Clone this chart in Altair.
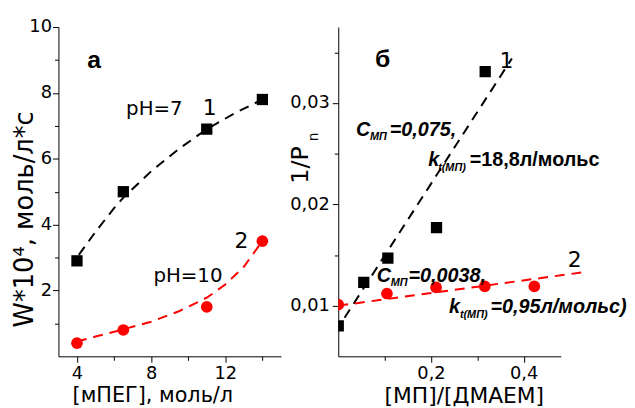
import altair as alt
import pandas as pd

# ---- Panel a data ----
conc_mpeg = [4, 6.5, 11, 14]
w_ph7 = [2.9, 5.0, 6.9, 7.8]
w_ph10 = [0.4, 0.8, 1.5, 3.5]
fit7_x = [4.1, 5, 6, 6.5, 8, 9.5, 11, 12.5, 14]
fit7_y = [3.08, 3.78, 4.5, 4.82, 5.62, 6.3, 6.9, 7.38, 7.8]
fit10_x = [4, 5, 6.5, 8, 9.5, 11, 12, 13, 14]
fit10_y = [0.45, 0.6, 0.82, 1.05, 1.37, 1.78, 2.18, 2.72, 3.5]

# ---- Panel b data ----
ratio_black = [0, 0.055, 0.107, 0.212, 0.317]
invp_black = [0.0080, 0.0123, 0.0147, 0.0177, 0.0331]
ratio_red = [0, 0.105, 0.211, 0.316, 0.423]
invp_red = [0.0101, 0.0112, 0.0118, 0.0119, 0.0119]
fitb1_x = [0.0135, 0.3746]
fitb1_y = [0.0088, 0.0344]
fitb2_x = [0.0, 0.537]
fitb2_y = [0.0100, 0.01335]

RED = "#ff0000"
FONT = "DejaVu Sans"
AFONT = "Liberation Sans"
W, H = 225, 333
DASH = [10, 7]

def axis_common(**kw):
    return alt.Axis(grid=False, domainColor="black", tickColor="black",
                    labelColor="black", titleColor="black", labelFont=FONT,
                    labelFontSize=18, titleFont=FONT, titleFontWeight="normal",
                    labelOverlap=False, labelFlush=False, tickWidth=1, domainWidth=1,
                    titleAlign="center", titleBaseline="middle", **kw)

# Panel a axes
ax_a_x = axis_common(values=[4, 6, 8, 10, 12, 14],
                     labelExpr="datum.value % 4 === 0 ? datum.label : ''",
                     tickSize={"condition": {"test": "datum.value % 4 === 0", "value": 6}, "value": 4},
                     labelPadding=2, title="[мПЕГ], моль/л", titleFontSize=21,
                     titleX=95, titleY=40)
ax_a_y = axis_common(values=[1, 2, 3, 4, 5, 6, 7, 8, 9, 10],
                     labelExpr="datum.value % 2 === 0 ? datum.label : ''",
                     tickSize={"condition": {"test": "datum.value % 2 === 0", "value": 6}, "value": 4},
                     labelPadding=1, title="W*10⁴, моль/л*с", titleFontSize=26,
                     titleX=-34, titleY=194, titleAngle=270)
sc_a_x = alt.Scale(domain=[3, 15], nice=False, zero=False)
sc_a_y = alt.Scale(domain=[0, 10], nice=False, zero=False)

def xa(f):
    return alt.X(f, type="quantitative", scale=sc_a_x, axis=ax_a_x)

def ya(f):
    return alt.Y(f, type="quantitative", scale=sc_a_y, axis=ax_a_y)

df_a = pd.DataFrame({"c": conc_mpeg, "w7": w_ph7, "w10": w_ph10})
df_f7 = pd.DataFrame({"x": fit7_x, "y": fit7_y})
df_f10 = pd.DataFrame({"x": fit10_x, "y": fit10_y})

line7 = alt.Chart(df_f7).mark_line(color="black", strokeWidth=2, strokeDash=DASH).encode(
    x=xa("x"), y=ya("y"))
line10 = alt.Chart(df_f10).mark_line(color=RED, strokeWidth=2, strokeDash=DASH).encode(
    x=xa("x"), y=ya("y"))
pts7 = alt.Chart(df_a).mark_point(shape="square", filled=True, size=130, color="black", opacity=1).encode(
    x=xa("c"), y=ya("w7"))
pts10 = alt.Chart(df_a).mark_circle(size=140, color=RED, opacity=1).encode(
    x=xa("c"), y=ya("w10"))

def label(text, px, py, size=20, font=FONT, weight="normal", style="normal", align="center", angle=0):
    return alt.Chart(pd.DataFrame({"t": [text]})).mark_text(
        font=font, fontSize=size, fontWeight=weight, fontStyle=style, align=align,
        baseline="middle", color="black", angle=angle
    ).encode(text="t:N", x=alt.value(px), y=alt.value(py))

txt_a = [
    label("а", 36, 33, size=25, font=AFONT, weight="bold"),
    label("pH=7", 97, 83, size=20),
    label("1", 153, 82, size=22),
    label("pH=10", 131, 252, size=20),
    label("2", 185, 216, size=22),
]

panel_a = alt.layer(line7, line10, pts7, pts10, *txt_a).properties(width=W, height=H)

# Panel b axes
ax_b_x = axis_common(values=[0.1, 0.2, 0.3, 0.4],
                     labelExpr="round(datum.value*10) % 2 === 0 ? replace(format(datum.value, '.1f'), '.', ',') : ''",
                     tickSize={"condition": {"test": "round(datum.value*10) % 2 === 0", "value": 6}, "value": 4},
                     labelPadding=2, title="[МП]/[ДМАЕМ]", titleFontSize=22,
                     titleX=127, titleY=40)
ax_b_y = axis_common(values=[0.01, 0.015, 0.02, 0.025, 0.03, 0.035],
                     labelExpr="round(datum.value*1000) % 10 === 0 ? replace(format(datum.value, '.2f'), '.', ',') : ''",
                     tickSize={"condition": {"test": "round(datum.value*1000) % 10 === 0", "value": 6}, "value": 4},
                     labelPadding=3, title="1/P", titleFontSize=24,
                     titleX=-38, titleY=139, titleAngle=270)
sc_b_x = alt.Scale(domain=[0, 0.48], nice=False, zero=False)
sc_b_y = alt.Scale(domain=[0.005, 0.0375], nice=False, zero=False)

def xb(f):
    return alt.X(f, type="quantitative", scale=sc_b_x, axis=ax_b_x)

def yb(f):
    return alt.Y(f, type="quantitative", scale=sc_b_y, axis=ax_b_y)

df_b1 = pd.DataFrame({"x": ratio_black, "y": invp_black})
df_b2 = pd.DataFrame({"x": ratio_red, "y": invp_red})
df_fb1 = pd.DataFrame({"x": fitb1_x, "y": fitb1_y})
df_fb2 = pd.DataFrame({"x": fitb2_x, "y": fitb2_y})

lineb1 = alt.Chart(df_fb1).mark_line(color="black", strokeWidth=2, strokeDash=DASH, clip=True).encode(
    x=xb("x"), y=yb("y"))
lineb2 = alt.Chart(df_fb2).mark_line(color=RED, strokeWidth=2, strokeDash=DASH).encode(
    x=xb("x"), y=yb("y"))
ptsb1 = alt.Chart(df_b1).mark_point(shape="square", filled=True, size=130, color="black", opacity=1, clip=True).encode(
    x=xb("x"), y=yb("y"))
ptsb2 = alt.Chart(df_b2).mark_circle(size=140, color=RED, opacity=1, clip=True).encode(
    x=xb("x"), y=yb("y"))

BI = dict(font=AFONT, weight="bold", style="italic", align="left")
txt_b = [
    label("б", 45, 32, size=25, font=AFONT, weight="bold"),
    label("1", 170, 34, size=22),
    label("2", 239, 236, size=22),
    label("n", -25, 111, size=14, angle=270),
    label("C", 18, 104, size=20, **BI),
    label("МП", 32, 111, size=11, **BI),
    label("=0,075,", 52, 104, size=20, **BI),
    label("k", 91, 135, size=20, **BI),
    label("t(МП)", 101, 143, size=11, **BI),
    label("=18,8л/мольс", 133, 135, size=20, font=AFONT, weight="bold", align="left"),
    label("C", 39, 252, size=20, **BI),
    label("МП", 53, 259, size=11, **BI),
    label("=0,0038,", 71, 252, size=20, **BI),
    label("k", 112, 283, size=20, **BI),
    label("t(МП)", 123, 291, size=11, **BI),
    label("=0,95л/мольс)", 154, 283, size=20, **BI),
]

panel_b = alt.layer(lineb1, lineb2, ptsb1, ptsb2, *txt_b).properties(width=W, height=H)

chart = alt.hconcat(panel_a, panel_b, spacing=58, bounds="flush").properties(
    padding={"left": 4, "top": 8, "right": 0, "bottom": 0},
    background="white",
).configure_view(stroke=None)

chart.save("out.html", embed_options={"renderer": "svg", "actions": False})
